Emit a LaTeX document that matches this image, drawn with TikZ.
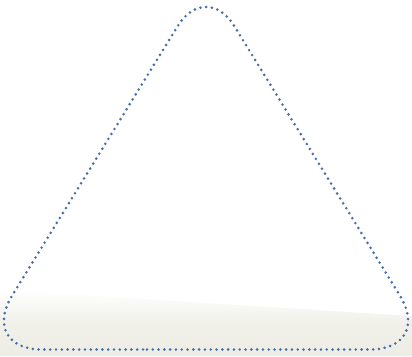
\documentclass[tikz,border=0pt]{standalone}
\definecolor{dotblue}{RGB}{70,112,172}
\definecolor{paper}{RGB}{238,237,229}
\tikzset{
  dotline/.style={draw=dotblue, line width=2.9pt, line cap=round, dash pattern=on 0pt off 5.8pt}
}
\begin{document}
\begin{tikzpicture}[x=1pt,y=-1pt]
\useasboundingbox (0,0) rectangle (412,356);
\fill[white] (0,0) rectangle (412,356);
% faint paper band at the bottom
\shade[top color=white, bottom color=paper, middle color=paper!85] (0,290) -- (412,316) -- (412,356) -- (0,356) -- cycle;
\coordinate (A) at (206,-20);
\coordinate (B) at (-21,349.5);
\coordinate (C) at (433,349.5);
\coordinate (M) at (206,349.5);
\path[dotline] (M) [rounded corners=63pt] -- (B) [rounded corners=54pt] -- (A) [rounded corners=63pt] -- (C) -- cycle;
\end{tikzpicture}
\end{document}
